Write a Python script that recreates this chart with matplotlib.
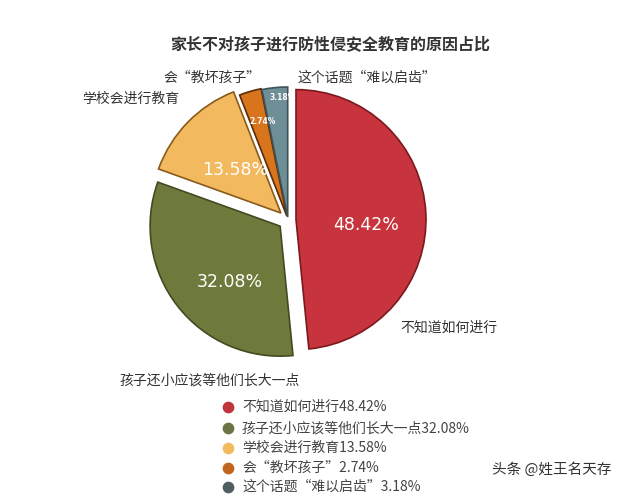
import matplotlib
matplotlib.use("Agg")
import matplotlib.pyplot as plt

plt.rcParams['font.family'] = ['Noto Sans CJK SC', 'DejaVu Sans']

title = "家长不对孩子进行防性侵安全教育的原因占比"
categories = ["不知道如何进行", "孩子还小应该等他们长大一点", "学校会进行教育", "会“教坏孩子”", "这个话题“难以启齿”"]
values = [48.42, 32.08, 13.58, 2.74, 3.18]
colors = ["#c8343d", "#6e7a3c", "#f2b95e", "#d8741c", "#6f8f98"]
edge_colors = ["#7a1a1e", "#434a22", "#8a5a1a", "#5a2c08", "#3e5258"]
legend_colors = ["#c0343c", "#6b7444", "#f0bc5e", "#c0661c", "#4f5e5e"]
watermark = "头条 @姓王名天存"

W, H = 640, 494
fig = plt.figure(figsize=(6.4, 4.94), dpi=100)
ax = fig.add_axes([0, 0, 1, 1])

def Y(y):
    return H - y

cx, cy, r = 288, 220, 130
wedges, _ = ax.pie(values, colors=colors, startangle=90, counterclock=False,
                   explode=[8, 10, 10, 4, 3],
                   center=(cx, Y(cy)), radius=r, frame=True,
                   wedgeprops=dict(linewidth=1.2))
for w, ec in zip(wedges, edge_colors):
    w.set_edgecolor(ec)
ax.set_xlim(0, W)
ax.set_ylim(0, H)
ax.set_aspect('equal')
ax.axis('off')

# title
ax.text(330, Y(45), title, ha='center', va='center', fontsize=11.5,
        fontweight='bold', color='#333333')

# inner percentage labels
inner = [(366, 225, 12.5, 'normal'), (230, 282, 12.5, 'normal'),
         (235, 170, 12.5, 'normal'), (263, 121, 5.5, 'bold'), (283, 98, 5.5, 'bold')]
for v, (x, y, fs, fw) in zip(values, inner):
    ax.text(x, Y(y), f"{v:.2f}%", ha='center', va='center', fontsize=fs,
            fontweight=fw, color='white', family=['DejaVu Sans'])

# outer category labels
outer = [(400, 328, 'left'), (120, 380, 'left'), (82, 99, 'left'),
         (163, 78, 'left'), (297, 78, 'left')]
for c, (x, y, ha) in zip(categories, outer):
    ax.text(x, Y(y), c, ha=ha, va='center', fontsize=10, color='#333333')

# legend
ys = [407, 428, 448, 468, 487]
for c, v, col, y in zip(categories, values, legend_colors, ys):
    ax.scatter([228], [Y(y)], s=55, color=col, zorder=3)
    ax.text(242, Y(y), f"{c}{v:.2f}%", ha='left', va='center', fontsize=10,
            color='#444444')

ax.text(492, Y(470), watermark, ha='left', va='center', fontsize=10.5, color='#333333')

fig.savefig("out.png", dpi=100, facecolor='white')
